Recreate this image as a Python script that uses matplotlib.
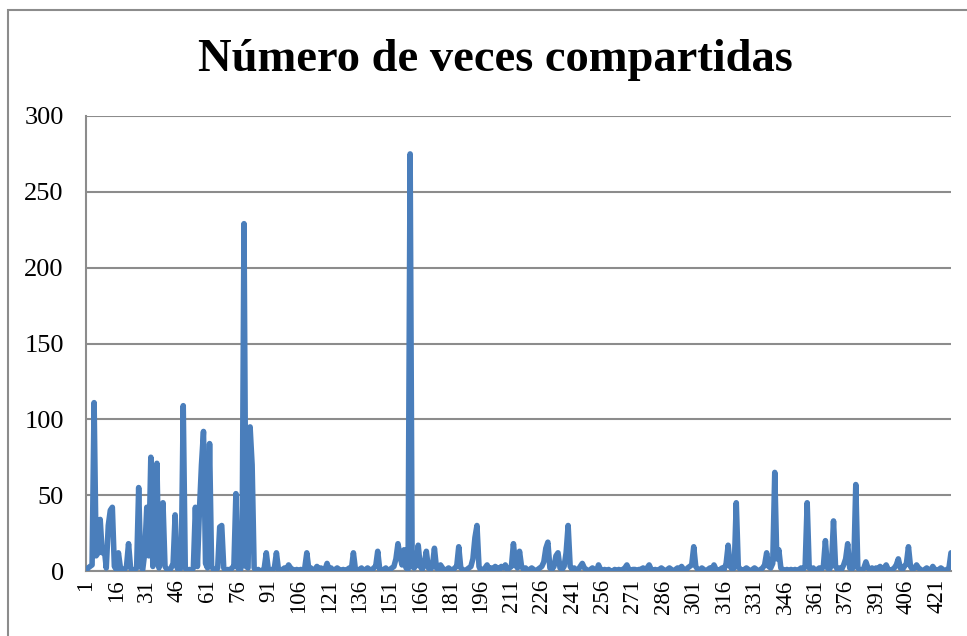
import matplotlib.pyplot as plt
from matplotlib.patches import Rectangle

plt.rcParams['font.family'] = ['Liberation Serif', 'DejaVu Serif']

# Values, one per category (1..428)
veces = [
    0, 2, 3, 4, 111, 10, 12, 34, 12, 15, 2, 30, 40, 42, 3, 1, 12, 2, 0, 1,
    3, 18, 2, 0, 1, 2, 55, 3, 1, 12, 42, 10, 75, 3, 12, 71, 2, 8, 45, 3,
    1, 0, 2, 5, 37, 2, 0, 3, 109, 2, 0, 1, 0, 2, 42, 3, 40, 70, 92, 5,
    2, 84, 3, 1, 0, 2, 29, 30, 2, 0, 1, 0, 2, 3, 51, 2, 0, 4, 229, 3,
    2, 95, 70, 2, 0, 1, 0, 0, 2, 12, 1, 0, 1, 2, 12, 1, 0, 1, 2, 1,
    4, 2, 1, 0, 1, 0, 1, 0, 2, 12, 1, 2, 0, 1, 3, 1, 2, 0, 1, 5,
    1, 2, 0, 1, 2, 1, 0, 1, 0, 1, 2, 1, 12, 1, 0, 1, 2, 0, 1, 2,
    1, 0, 2, 3, 13, 1, 0, 1, 2, 0, 1, 2, 3, 8, 18, 10, 4, 14, 2, 1,
    275, 3, 2, 4, 17, 3, 1, 5, 13, 2, 1, 3, 15, 2, 1, 4, 2, 0, 1, 2,
    1, 0, 2, 3, 16, 2, 1, 0, 1, 2, 3, 8, 22, 30, 3, 0, 1, 2, 4, 1,
    2, 1, 3, 2, 1, 3, 2, 4, 1, 2, 3, 18, 4, 2, 13, 3, 1, 2, 0, 1,
    2, 1, 0, 1, 2, 3, 6, 15, 19, 2, 1, 3, 10, 12, 2, 1, 3, 12, 30, 3,
    1, 2, 0, 1, 3, 5, 2, 1, 0, 1, 2, 1, 0, 4, 1, 0, 1, 0, 1, 0,
    0, 1, 0, 1, 0, 1, 2, 4, 1, 0, 1, 1, 0, 1, 1, 2, 1, 2, 4, 1,
    0, 1, 0, 1, 2, 1, 0, 1, 2, 1, 0, 1, 2, 1, 3, 1, 0, 2, 3, 4,
    16, 3, 1, 0, 2, 1, 0, 1, 2, 1, 4, 1, 0, 1, 2, 1, 5, 17, 3, 1,
    2, 45, 3, 1, 0, 1, 2, 1, 0, 1, 2, 1, 0, 1, 2, 4, 12, 3, 2, 5,
    65, 8, 14, 2, 1, 0, 1, 0, 1, 0, 1, 0, 1, 2, 1, 3, 45, 2, 1, 2,
    0, 1, 2, 1, 3, 20, 2, 1, 4, 33, 3, 1, 2, 1, 4, 8, 18, 2, 1, 3,
    57, 2, 1, 0, 2, 6, 2, 1, 2, 1, 2, 1, 3, 1, 2, 4, 1, 0, 1, 2,
    4, 8, 2, 1, 3, 5, 16, 3, 1, 2, 4, 2, 1, 0, 1, 2, 1, 0, 3, 1,
    0, 1, 2, 1, 0, 1, 2, 12,
]
categorias = list(range(1, len(veces) + 1))
etiquetas = categorias[::15]

fig = plt.figure(figsize=(9.67, 6.36), dpi=100)

# outer chart frame (cut off on the right and bottom, like the original)
fig.patches.append(Rectangle((8 / 967, -0.1), 1.2, 1 - 10 / 636 + 0.1,
                             transform=fig.transFigure, fill=False,
                             edgecolor='#8c8c8c', linewidth=1.5))

ax = fig.add_axes([86 / 967, 1 - 571 / 636, (951 - 86) / 967, (571 - 116) / 636])
ax.plot(categorias, veces, color='#4a7ebb', linewidth=4.0,
        solid_joinstyle='round', solid_capstyle='round', zorder=3)

ax.set_xlim(1, len(veces))
ax.set_ylim(0, 300)
ax.set_yticks(range(0, 301, 50))
ax.set_xticks(etiquetas)
ax.set_xticklabels([str(e) for e in etiquetas], rotation=90, fontsize=16.5)
ax.tick_params(axis='y', labelsize=19, length=0, pad=16)
ax.tick_params(axis='x', length=0, pad=6)
ax.grid(axis='y', color='#8c8c8c', linewidth=1.5)
ax.set_axisbelow(True)

for s in ['top', 'right']:
    ax.spines[s].set_visible(False)
ax.spines['left'].set_color('#8c8c8c')
ax.spines['bottom'].set_color('#8c8c8c')
ax.spines['left'].set_linewidth(1.5)
ax.spines['bottom'].set_linewidth(1.5)

fig.text(495 / 967, 1 - 60 / 636, 'Número de veces compartidas',
         fontsize=33.5, fontweight='bold', ha='center', va='center')

fig.savefig('out.png', dpi=100)
